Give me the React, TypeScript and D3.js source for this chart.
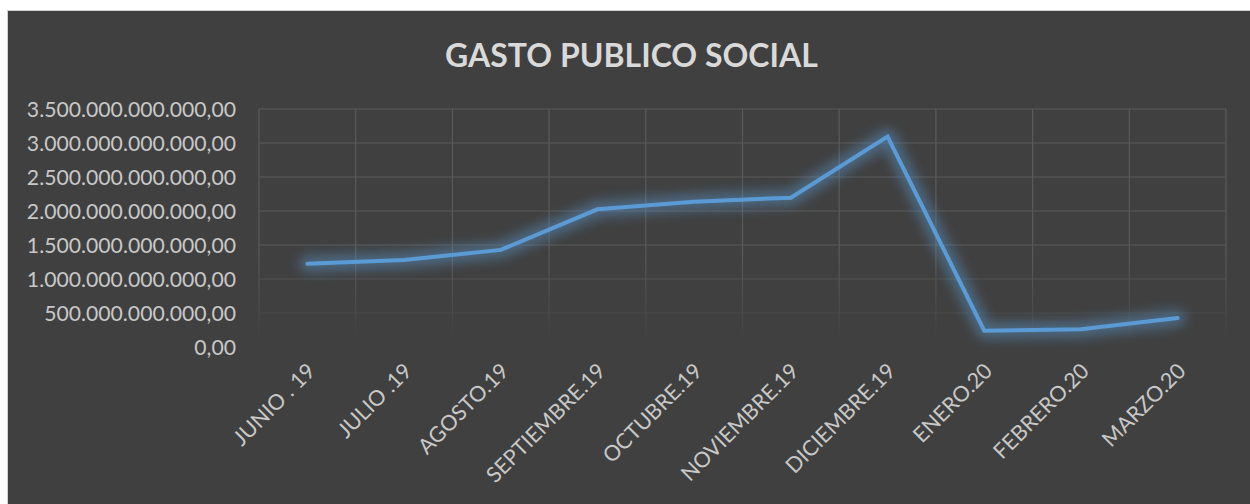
import React from "react";
import * as d3 from "d3";

const categories = [
  "JUNIO . 19",
  "JULIO .19",
  "AGOSTO.19",
  "SEPTIEMBRE.19",
  "OCTUBRE.19",
  "NOVIEMBRE.19",
  "DICIEMBRE.19",
  "ENERO.20",
  "FEBRERO.20",
  "MARZO.20",
];

const gastoValues = [
  1.225e12, 1.28e12, 1.428e12, 2.025e12, 2.137e12, 2.196e12, 3.093e12, 0.24e12,
  0.26e12, 0.426e12,
];

const yTicks = [0, 0.5e12, 1e12, 1.5e12, 2e12, 2.5e12, 3e12, 3.5e12];

const title = "GASTO PUBLICO SOCIAL";

const W = 1250;
const H = 504;
const plot = { left: 259, right: 1226, top: 109, bottom: 347 };

const locale = d3.formatLocale({
  decimal: ",",
  thousands: ".",
  grouping: [3],
  currency: ["", ""],
});
const fmt = locale.format(",.2f");

export default function App() {
  const x = d3
    .scaleBand<string>()
    .domain(categories)
    .range([plot.left, plot.right])
    .padding(0);
  const y = d3.scaleLinear().domain([0, 3.5e12]).range([plot.bottom, plot.top]);

  const line = d3
    .line<number>()
    .x((_, i) => (x(categories[i]) as number) + x.bandwidth() / 2)
    .y((d) => y(d));
  const path = line(gastoValues) || "";

  const font = "Lato, 'Open Sans', sans-serif";
  const gridColor = "#5a5a5a";

  const vLines = categories.map((c) => x(c) as number).concat([plot.right]);

  return (
    <svg
      width={W}
      height={H}
      style={{ position: "absolute", left: 0, top: 0, display: "block" }}
    >
      <defs>
        <linearGradient id="fadeGrad" x1="0" y1="0" x2="0" y2="1" gradientUnits="objectBoundingBox">
          <stop offset="0" stopColor="#fff" stopOpacity="1" />
          <stop offset="0.6" stopColor="#fff" stopOpacity="1" />
          <stop offset="0.83" stopColor="#fff" stopOpacity="0.45" />
          <stop offset="0.97" stopColor="#fff" stopOpacity="0" />
          <stop offset="1" stopColor="#fff" stopOpacity="0" />
        </linearGradient>
        <mask id="gridMask" maskUnits="userSpaceOnUse" x={0} y={0} width={W} height={H}>
          <rect
            x={plot.left - 2}
            y={plot.top - 2}
            width={plot.right - plot.left + 4}
            height={plot.bottom - plot.top + 4}
            fill="url(#fadeGrad)"
          />
        </mask>
        <filter id="glow" x="-20%" y="-60%" width="140%" height="220%">
          <feGaussianBlur stdDeviation="6" />
        </filter>
      </defs>
      <rect x={0} y={0} width={W} height={H} fill="#ffffff" />
      <rect x={7.5} y={10.5} width={W} height={H} fill="#404040" stroke="#d0d0d0" strokeWidth={1} />

      <text
        x={631.5}
        y={67}
        textAnchor="middle"
        fill="#d9d9d9"
        fontFamily={font}
        fontWeight={700}
        fontSize={32}
      >
        {title}
      </text>

      <g mask="url(#gridMask)">
        {yTicks.map((t) => (
          <line
            key={"h" + t}
            x1={plot.left}
            x2={plot.right}
            y1={y(t)}
            y2={y(t)}
            stroke={gridColor}
            strokeWidth={1.2}
          />
        ))}
        {vLines.map((v, i) => (
          <line
            key={"v" + i}
            x1={v}
            x2={v}
            y1={plot.top}
            y2={plot.bottom}
            stroke={gridColor}
            strokeWidth={1.2}
          />
        ))}
      </g>

      {yTicks.map((t) => (
        <text
          key={"yl" + t}
          x={236}
          y={y(t)}
          dy="0.36em"
          textAnchor="end"
          fill="#c8c8c8"
          fontFamily={font}
          fontSize={21.2}
        >
          {fmt(t)}
        </text>
      ))}

      {categories.map((c) => {
        const cx = (x(c) as number) + x.bandwidth() / 2;
        return (
          <text
            key={"xl" + c}
            transform={`translate(${cx + 4},${367}) rotate(-45)`}
            textAnchor="end"
            dy="0.35em"
            fill="#c8c8c8"
            fontFamily={font}
            fontSize={21.5}
          >
            {c}
          </text>
        );
      })}

      <path
        d={path}
        fill="none"
        stroke="#5b9bd5"
        strokeOpacity={0.45}
        strokeWidth={16}
        strokeLinejoin="round"
        strokeLinecap="round"
        filter="url(#glow)"
      />
      <path
        d={path}
        fill="none"
        stroke="#5b9bd5"
        strokeWidth={4}
        strokeLinejoin="miter"
        strokeLinecap="round"
      />
    </svg>
  );
}
